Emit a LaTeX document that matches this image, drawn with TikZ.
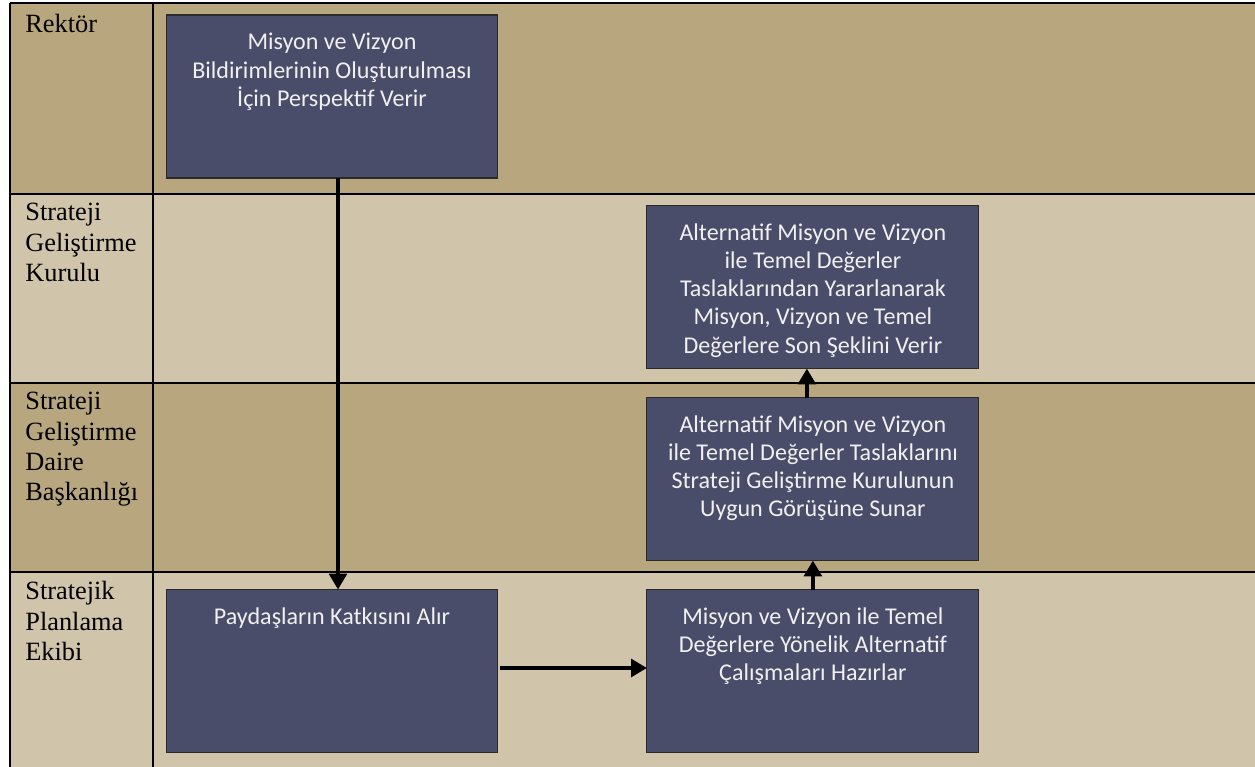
\documentclass[tikz,border=0pt]{standalone}
\usepackage{fontspec}
\setmainfont{Liberation Serif}
\newfontfamily\boxfont{Carlito}
\usetikzlibrary{positioning,arrows.meta}
\definecolor{laneDark}{HTML}{B8A67E}
\definecolor{laneLight}{HTML}{D0C5AB}
\definecolor{stepFill}{HTML}{4A4D69}
\definecolor{stepLine}{HTML}{2A2A2A}

\begin{document}
\begin{tikzpicture}
[x=0.02cm,y=-0.02cm,>={Triangle[width=10pt,length=9pt]},
lane/.style={anchor=north west,align=left,inner sep=0pt,font=\fontsize{15}{17.3}\selectfont},
stepbox/.style={draw=stepLine,line width=0.6pt,fill=stepFill,minimum width=6.64cm,minimum height=3.26cm,outer sep=0pt},
steptext/.style={text=white!94!black,align=center,inner sep=0pt,font=\boxfont\fontsize{13.7}{16}\selectfont},
flow/.style={->,line width=2.2pt},]

\useasboundingbox (0,0) rectangle (1255,767);

%Lane backgrounds
\fill[laneDark] (10,3) rectangle (1255,194);
\fill[laneLight] (10,194) rectangle (1255,383);
\fill[laneDark] (10,383) rectangle (1255,572);
\fill[laneLight] (10,572) rectangle (1255,767);

%Lane borders
\draw[line width=1.2pt] (10,3) -- (1255,3);
\draw[line width=1.2pt] (10,194) -- (1255,194);
\draw[line width=1.2pt] (10,383) -- (1255,383);
\draw[line width=1.2pt] (10,572) -- (1255,572);
\draw[line width=1.2pt] (10,3) -- (10,767);
\draw[line width=1.2pt] (153,3) -- (153,767);

%Lane labels
\node (rektor) at (25,14)[lane] {Rektör};
\node (kurul) at (25,203)[lane] {Strateji\\Geliştirme\\Kurulu};
\node (daire) at (25,392)[lane] {Strateji\\Geliştirme\\Daire\\Başkanlığı};
\node (ekip) at (25,581)[lane] {Stratejik\\Planlama\\Ekibi};

%Process boxes
\node (b1) at (332,96.5)[stepbox] {};
\node (b4) at (332,671)[stepbox] {};
\node (b5) [stepbox,right=2.98cm of b4] {};
\node (b3) [stepbox,above=0.58cm of b5] {};
\node (b2) [stepbox,above=0.58cm of b3] {};

%Box texts
\node (t1) [steptext,below=0.36cm of b1.north] {Misyon ve Vizyon\\Bildirimlerinin Oluşturulması\\İçin Perspektif Verir};
\node (t2) [steptext,below=0.36cm of b2.north] {Alternatif Misyon ve Vizyon\\ile Temel Değerler\\Taslaklarından Yararlanarak\\Misyon, Vizyon ve Temel\\Değerlere Son Şeklini Verir};
\node (t3) [steptext,below=0.36cm of b3.north] {Alternatif Misyon ve Vizyon\\ile Temel Değerler Taslaklarını\\Strateji Geliştirme Kurulunun\\Uygun Görüşüne Sunar};
\node (t4) [steptext,below=0.36cm of b4.north] {Paydaşların Katkısını Alır};
\node (t5) [steptext,below=0.36cm of b5.north] {Misyon ve Vizyon ile Temel\\Değerlere Yönelik Alternatif\\Çalışmaları Hazırlar};

%Arrows
\draw[flow] ([xshift=0.12cm]b1.south) -- ([xshift=0.12cm]b4.north);
\draw[flow] ([xshift=0.04cm,yshift=0.06cm]b4.east) -- ([yshift=0.06cm]b5.west);
\draw[flow] (b5.north) -- (b3.south);
\draw[flow] ([xshift=-0.12cm]b3.north) -- ([xshift=-0.12cm]b2.south);

\end{tikzpicture}
\end{document}
